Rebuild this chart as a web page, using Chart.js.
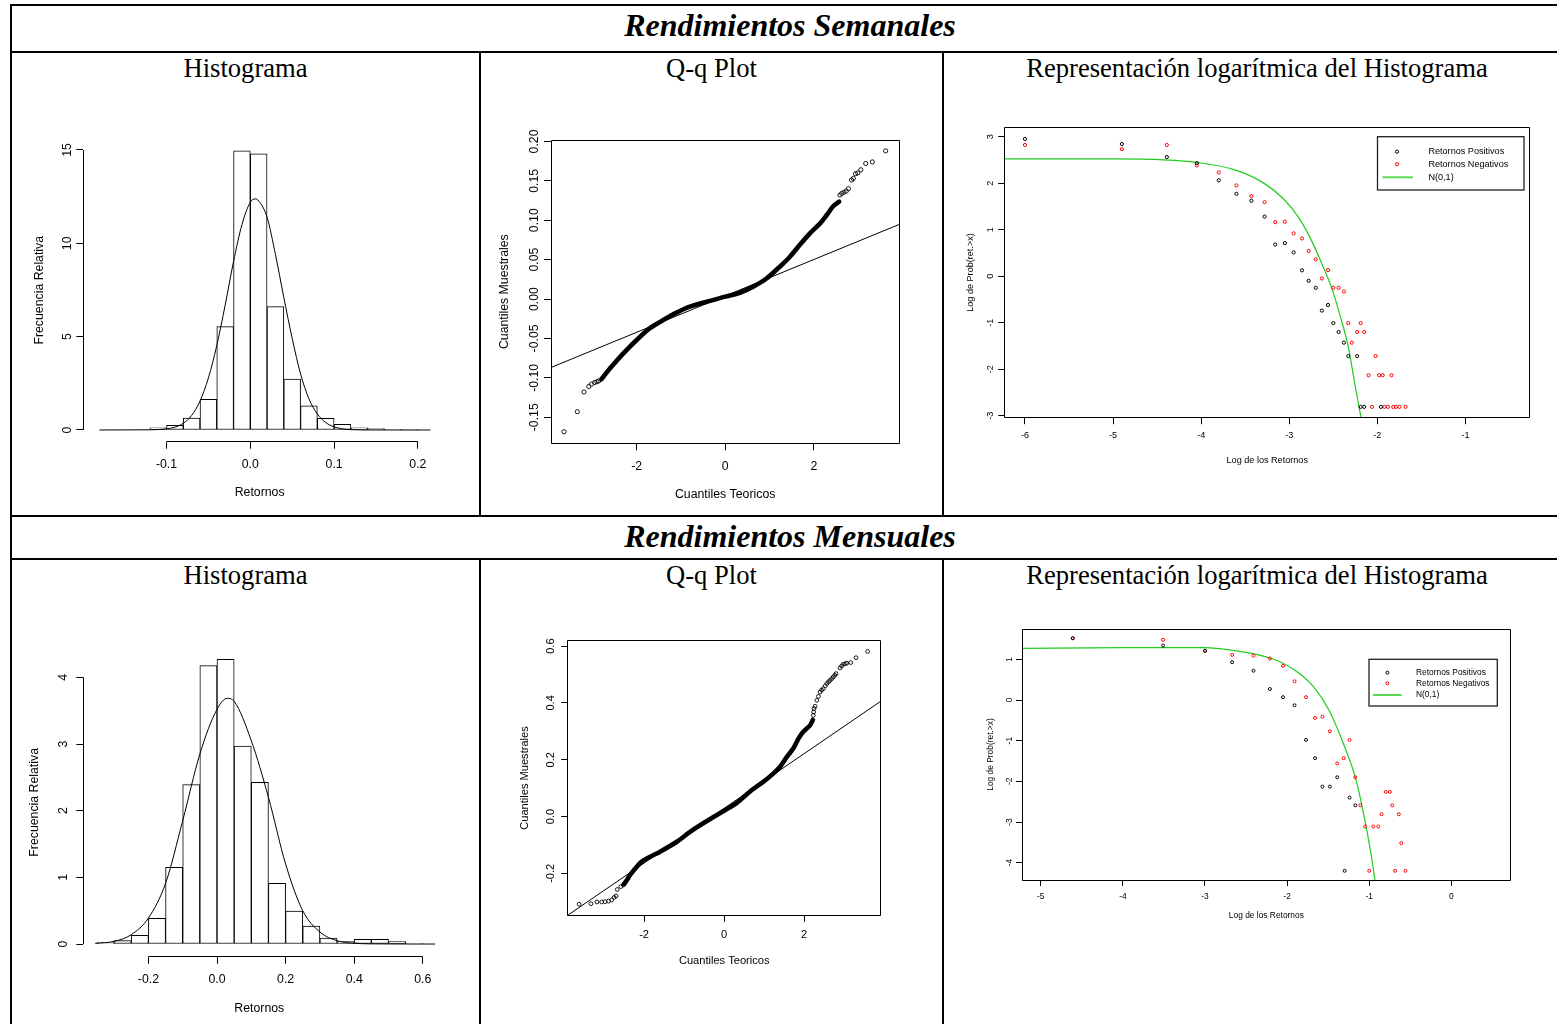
<!DOCTYPE html>
<html>
<head>
<meta charset="utf-8">
<script src="https://cdn.jsdelivr.net/npm/chart.js@4.4.1/dist/chart.umd.min.js"></script>
<style>
  body { margin: 0; width: 1557px; height: 1024px; overflow: hidden; background: #fff; position: relative;
         font-family: 'Liberation Serif', 'Times New Roman', serif; }
  .ln { position: absolute; background: #000; }
  .txt { position: absolute; text-align: center; white-space: nowrap; line-height: 1; color: #000; }
  .row { font-size: 32px; font-weight: bold; font-style: italic; }
  .cell { font-size: 26.6px; }
  canvas { position: absolute; }
</style>
</head>
<body>
<!-- table rules -->
<div class="ln" style="left:10px;top:4px;width:1570px;height:2px"></div>
<div class="ln" style="left:10px;top:4px;width:2px;height:1020px"></div>
<div class="ln" style="left:10px;top:51px;width:1570px;height:2px"></div>
<div class="ln" style="left:10px;top:515px;width:1570px;height:2px"></div>
<div class="ln" style="left:10px;top:558px;width:1570px;height:2px"></div>
<div class="ln" style="left:479px;top:51px;width:2px;height:465px"></div>
<div class="ln" style="left:942px;top:51px;width:2px;height:465px"></div>
<div class="ln" style="left:479px;top:558px;width:2px;height:466px"></div>
<div class="ln" style="left:942px;top:558px;width:2px;height:466px"></div>

<div class="txt row" style="left:10px;width:1560px;top:9px">Rendimientos Semanales</div>
<div class="txt row" style="left:10px;width:1560px;top:520px">Rendimientos Mensuales</div>

<div class="txt cell" style="left:12px;width:467px;top:55px">Histograma</div>
<div class="txt cell" style="left:481px;width:461px;top:55px">Q-q Plot</div>
<div class="txt cell" style="left:944px;width:626px;top:55px">Representación logarítmica del Histograma</div>
<div class="txt cell" style="left:12px;width:467px;top:562px">Histograma</div>
<div class="txt cell" style="left:481px;width:461px;top:562px">Q-q Plot</div>
<div class="txt cell" style="left:944px;width:626px;top:562px">Representación logarítmica del Histograma</div>

<script>
// ---------- Rendimientos semanales ----------
// histograma (bordes de clase y densidad)
const semBreaks = [-0.18, -0.16, -0.14, -0.12, -0.10, -0.08, -0.06, -0.04, -0.02, 0.00,
                   0.02, 0.04, 0.06, 0.08, 0.10, 0.12, 0.14, 0.16, 0.18, 0.20];
const semDensity = [0, 0, 0, 0.12, 0.25, 0.64, 1.64, 5.54, 14.95, 14.8,
                    6.61, 2.73, 1.29, 0.62, 0.30, 0.12, 0.07, 0.04, 0.01];
const semCurveX = [-0.18, -0.12, -0.10, -0.09, -0.08, -0.07, -0.06, -0.05, -0.04, -0.03, -0.02, -0.01,
                   0.00, 0.006, 0.01, 0.02, 0.03, 0.04, 0.05, 0.06, 0.07, 0.08, 0.09, 0.10, 0.12, 0.15, 0.215];
const semCurveY = [0, 0.01, 0.06, 0.15, 0.36, 0.78, 1.55, 2.79, 4.53, 6.69, 9.03, 11.0,
                   12.2, 12.38, 12.27, 11.4, 9.4, 7.1, 4.9, 3.0, 1.67, 0.86, 0.40, 0.17, 0.02, 0.002, 0];
const semHistXTicks = [-0.1, 0.0, 0.1, 0.2];
const semHistYTicks = [0, 5, 10, 15];

// q-q plot
const semQqLineX = [-3.934, 3.928];
const semQqLineY = [-0.0869, 0.0947];
const semQqBandX = [-2.80, -2.75, -2.6, -2.3, -2.0, -1.7, -1.4, -1.1, -0.8, -0.42, 0, 0.33, 0.63, 0.93,
                    1.23, 1.46, 1.68, 1.91, 2.14, 2.29, 2.44, 2.57];
const semQqBandY = [-0.102, -0.0986, -0.088, -0.069, -0.052, -0.037, -0.0267, -0.0173, -0.0097, -0.0034,
                    0.003, 0.008, 0.0157, 0.026, 0.041, 0.0537, 0.0685, 0.0833, 0.096, 0.1066, 0.118, 0.1235];
const semQqPtsX = [-3.64, -3.34, -3.19, -3.08, -3.02, -2.95, -2.90, -2.86,
                   2.59, 2.63, 2.68, 2.73, 2.78, 2.85, 2.89, 2.94, 2.99, 3.06, 3.17, 3.32, 3.62];
const semQqPtsY = [-0.1684, -0.143, -0.118, -0.111, -0.108, -0.106, -0.105, -0.104,
                   0.132, 0.134, 0.1355, 0.137, 0.140, 0.151, 0.153, 0.159, 0.160, 0.164, 0.172, 0.174, 0.188];
const semQqXTicks = [-2, 0, 2];
const semQqYTicks = [-0.15, -0.10, -0.05, 0.00, 0.05, 0.10, 0.15, 0.20];

// representacion logaritmica
const semPosX = [-6.00, -4.90, -4.39, -4.05, -3.80, -3.60, -3.43, -3.28, -3.16, -3.05, -2.95, -2.855,
                 -2.78, -2.70, -2.63, -2.56, -2.50, -2.44, -2.38, -2.33, -2.23, -2.19, -2.15, -1.96];
const semPosY = [2.95, 2.84, 2.56, 2.43, 2.06, 1.77, 1.62, 1.28, 0.68, 0.71, 0.51, 0.125,
                 -0.10, -0.25, -0.74, -0.62, -1.01, -1.20, -1.43, -1.72, -1.72, -2.81, -2.81, -2.81];
const semNegX = [-6.00, -4.90, -4.39, -4.05, -3.80, -3.60, -3.43, -3.28, -3.16, -3.05, -2.95, -2.855,
                 -2.78, -2.70, -2.63, -2.56, -2.50, -2.44, -2.38, -2.33, -2.29, -2.23, -2.19, -2.15,
                 -2.10, -2.06, -2.02, -1.98, -1.94, -1.92, -1.88, -1.84, -1.82, -1.79, -1.75, -1.68];
const semNegY = [2.82, 2.73, 2.82, 2.38, 2.23, 1.95, 1.72, 1.59, 1.16, 1.17, 0.92, 0.81,
                 0.54, 0.36, -0.05, 0.13, -0.25, -0.25, -0.33, -1.01, -1.43, -1.20, -1.01, -1.20,
                 -2.13, -2.81, -1.72, -2.13, -2.13, -2.81, -2.81, -2.13, -2.81, -2.81, -2.81, -2.81];
const semNormX = [-6.23, -4.98, -4.42, -4.03, -3.59, -3.29, -3.07, -2.90, -2.77, -2.64, -2.51, -2.42, -2.33, -2.25, -2.18];
const semNormY = [2.52, 2.52, 2.50, 2.44, 2.27, 2.00, 1.67, 1.28, 0.85, 0.31, -0.30, -0.87, -1.52, -2.38, -3.10];
const semLogXTicks = [-6, -5, -4, -3, -2, -1];
const semLogYTicks = [-3, -2, -1, 0, 1, 2, 3];

// ---------- Rendimientos mensuales ----------
const menBreaks = [-0.35, -0.30, -0.25, -0.20, -0.15, -0.10, -0.05, 0.00, 0.05, 0.10,
                   0.15, 0.20, 0.25, 0.30, 0.35, 0.40, 0.45, 0.50, 0.55, 0.60];
const menDensity = [0.02, 0.05, 0.13, 0.385, 1.15, 2.39, 4.175, 4.27, 2.97, 2.425,
                    0.91, 0.495, 0.27, 0.09, 0.035, 0.07, 0.07, 0.035, 0.01];
const menCurveX = [-0.355, -0.30, -0.25, -0.20, -0.15, -0.10, -0.05, 0.00, 0.03, 0.05, 0.10, 0.15,
                   0.20, 0.25, 0.30, 0.35, 0.40, 0.45, 0.637];
const menCurveY = [0.01, 0.04, 0.14, 0.39, 0.91, 1.85, 2.85, 3.52, 3.685, 3.64, 3.05, 2.2,
                   1.2, 0.5, 0.18, 0.05, 0.012, 0.003, 0];
const menHistXTicks = [-0.2, 0.0, 0.2, 0.4, 0.6];
const menHistYTicks = [0, 1, 2, 3, 4];

const menQqLineX = [-3.91, 3.917];
const menQqLineY = [-0.348, 0.4056];
const menQqBandX = [-2.50, -2.43, -2.35, -2.22, -2.06, -1.85, -1.6, -1.18, -0.85, -0.43, 0, 0.32, 0.65,
                    0.98, 1.23, 1.4, 1.57, 1.73, 1.86, 1.98, 2.15, 2.22];
const menQqBandY = [-0.238, -0.224, -0.206, -0.183, -0.159, -0.142, -0.124, -0.089, -0.054, -0.016, 0.02,
                    0.048, 0.088, 0.122, 0.151, 0.175, 0.21, 0.239, 0.274, 0.298, 0.321, 0.340];
const menQqPtsX = [-3.625, -3.33, -3.18, -3.06, -2.975, -2.89, -2.81, -2.75, -2.70, -2.67, -2.58, -2.52,
                   2.23, 2.24, 2.25, 2.275, 2.32, 2.36, 2.40, 2.44, 2.48, 2.53, 2.57, 2.61, 2.65, 2.69,
                   2.73, 2.77, 2.80, 2.90, 2.94, 2.98, 3.03, 3.07, 3.17, 3.30, 3.59];
const menQqPtsY = [-0.309, -0.307, -0.301, -0.301, -0.300, -0.298, -0.294, -0.285, -0.280, -0.257, -0.247, -0.241,
                   0.356, 0.368, 0.380, 0.388, 0.409, 0.423, 0.438, 0.445, 0.450, 0.460, 0.468, 0.474, 0.479, 0.485,
                   0.491, 0.497, 0.503, 0.523, 0.530, 0.536, 0.538, 0.540, 0.542, 0.559, 0.581];
const menQqXTicks = [-2, 0, 2];
const menQqYTicks = [-0.2, 0.0, 0.2, 0.4, 0.6];

const menPosX = [-4.61, -3.51, -3.00, -2.67, -2.41, -2.21, -2.05, -1.91, -1.77, -1.66, -1.57, -1.48,
                 -1.39, -1.30, -1.24, -1.17];
const menPosY = [1.52, 1.34, 1.21, 0.93, 0.72, 0.27, 0.07, -0.13, -0.98, -1.43, -2.13, -2.13,
                 -1.90, -4.20, -2.40, -2.59];
const menNegX = [-4.61, -3.51, -3.00, -2.67, -2.41, -2.21, -2.05, -1.91, -1.77, -1.66, -1.57, -1.48,
                 -1.39, -1.31, -1.24, -1.17, -1.11, -1.05, -1.00, -0.95, -0.89, -0.85, -0.80, -0.75,
                 -0.72, -0.685, -0.64, -0.61, -0.56];
const menNegY = [1.52, 1.48, 1.21, 1.11, 1.09, 1.02, 0.84, 0.46, 0.07, -0.44, -0.41, -0.77,
                 -1.56, -1.43, -0.98, -1.90, -2.59, -3.11, -4.20, -3.11, -3.11, -2.81, -2.26, -2.26,
                 -2.59, -4.20, -2.81, -3.52, -4.20];
const menNormX = [-5.23, -4.0, -3.03, -2.56, -2.19, -1.91, -1.68, -1.49, -1.30, -1.16, -1.07, -0.98, -0.93];
const menNormY = [1.27, 1.29, 1.29, 1.19, 1.02, 0.74, 0.33, -0.25, -1.15, -1.97, -2.79, -3.77, -4.43];
const menLogXTicks = [-5, -4, -3, -2, -1, 0];
const menLogYTicks = [-4, -3, -2, -1, 0, 1];

// ---------- helpers ----------
Chart.defaults.font.family = "'Liberation Sans', Arial, Helvetica, sans-serif";
Chart.defaults.color = '#000';

const GREEN = '#1fcc1f';
const pts = (xs, ys) => xs.map((x, i) => ({ x: x, y: ys[i] }));
const bins = (br, d) => d.map((v, i) => ({ x: (br[i] + br[i + 1]) / 2, y: v }));
const ap = p => Math.round(p - 0.5) + 0.5;

// R style frame: detached axes for histograms, box for the others, plus legend
const rFrame = {
  id: 'rFrame',
  afterDatasetsDraw(chart, args, o) {
    const { ctx, chartArea: a } = chart;
    const xs = chart.scales.x, ys = chart.scales.y;
    ctx.save();
    ctx.strokeStyle = '#000';
    ctx.lineWidth = 1;
    ctx.beginPath();
    if (o.box) {
      ctx.rect(ap(a.left), ap(a.top), ap(a.right) - ap(a.left), ap(a.bottom) - ap(a.top));
    } else {
      const xt = xs.ticks, yt = ys.ticks;
      ctx.moveTo(xs.getPixelForValue(xt[0].value), ap(a.bottom));
      ctx.lineTo(xs.getPixelForValue(xt[xt.length - 1].value), ap(a.bottom));
      ctx.moveTo(ap(a.left), ys.getPixelForValue(yt[0].value));
      ctx.lineTo(ap(a.left), ys.getPixelForValue(yt[yt.length - 1].value));
    }
    ctx.stroke();

    if (o.legend) {
      const g = o.legend, ox = o.origin[0], oy = o.origin[1];
      const bx = g.box[0] - ox, by = g.box[1] - oy, bw = g.box[2] - g.box[0], bh = g.box[3] - g.box[1];
      ctx.fillStyle = '#fff';
      ctx.fillRect(bx, by, bw, bh);
      ctx.strokeStyle = '#222';
      ctx.lineWidth = 1.3;
      ctx.strokeRect(bx, by, bw, bh);
      ctx.font = g.font + "px 'Liberation Sans', Arial, sans-serif";
      ctx.textBaseline = 'middle';
      ctx.textAlign = 'left';
      chart.data.datasets.forEach((ds, i) => {
        const ry = g.rows[i] - oy;
        if (ds.type === 'line') {
          ctx.strokeStyle = '#5ad85a';
          ctx.lineWidth = 2;
          ctx.beginPath();
          ctx.moveTo(g.line[0] - ox, ry);
          ctx.lineTo(g.line[1] - ox, ry);
          ctx.stroke();
        } else {
          ctx.strokeStyle = ds.borderColor;
          ctx.lineWidth = 1;
          ctx.beginPath();
          ctx.arc(g.symX - ox, ry, ds.pointRadius, 0, Math.PI * 2);
          ctx.stroke();
        }
        ctx.fillStyle = '#000';
        ctx.fillText(ds.label, g.textX - ox, ry);
      });
    }
    ctx.restore();
  }
};
Chart.register(rFrame);

function axisOpts(a, vertical, size) {
  return {
    type: 'linear', min: a.min, max: a.max, offset: false,
    afterBuildTicks: s => { s.ticks = a.ticks.map(v => ({ value: v })); },
    afterFit: s => { if (vertical) s.width = size; else s.height = size; },
    border: { display: false },
    grid: { display: true, drawOnChartArea: false, drawTicks: true, tickLength: a.tl,
            color: '#000', lineWidth: 1, offset: false },
    ticks: {
      autoSkip: false, padding: a.pad, color: '#000', font: { size: a.font },
      minRotation: vertical ? 90 : 0, maxRotation: vertical ? 90 : 0,
      crossAlign: vertical ? 'center' : 'near',
      callback: v => a.fmt(v)
    },
    title: { display: true, text: a.title, color: '#000', font: { size: a.font },
             padding: { top: a.tpad, bottom: a.tpad } }
  };
}

// cell = [left, top, width, height] of the canvas, area = [L, T, R, B] of the plot region (page px)
function makePanel(cell, area, type, datasets, sx, sy, frame) {
  const cv = document.createElement('canvas');
  cv.width = cell[2]; cv.height = cell[3];
  cv.style.left = cell[0] + 'px'; cv.style.top = cell[1] + 'px';
  cv.style.width = cell[2] + 'px'; cv.style.height = cell[3] + 'px';
  document.body.appendChild(cv);
  frame.origin = [cell[0], cell[1]];
  return new Chart(cv, {
    type: type,
    data: { datasets: datasets },
    options: {
      responsive: false, animation: false, events: [], devicePixelRatio: 1,
      layout: { padding: { left: 0, bottom: 0, top: area[1] - cell[1], right: cell[0] + cell[2] - area[2] } },
      plugins: { legend: { display: false }, tooltip: { enabled: false }, rFrame: frame },
      datasets: { bar: { barPercentage: 1, categoryPercentage: 1, grouped: false } },
      scales: {
        x: axisOpts(sx, false, cell[1] + cell[3] - area[3]),
        y: axisOpts(sy, true, area[0] - cell[0])
      }
    }
  });
}

const f0 = v => String(v);
const f1 = v => v.toFixed(1);
const f2 = v => v.toFixed(2);

function histSets(br, d, cx, cy) {
  return [
    { type: 'line', data: pts(cx, cy), borderColor: '#000', borderWidth: 1, pointRadius: 0,
      cubicInterpolationMode: 'monotone', clip: 0 },
    { type: 'bar', data: bins(br, d), backgroundColor: '#fff', borderColor: '#000',
      borderWidth: 1, borderSkipped: false }
  ];
}
function qqSets(lx, ly, bx, by, px, py, r) {
  return [
    { type: 'line', data: pts(lx, ly), borderColor: '#000', borderWidth: 1, pointRadius: 0, clip: 0 },
    { type: 'line', data: pts(bx, by), borderColor: '#000', borderWidth: 4.6, pointRadius: 0,
      tension: 0.3, borderCapStyle: 'round', borderJoinStyle: 'round' },
    { type: 'scatter', data: pts(px, py), borderColor: '#000', backgroundColor: 'rgba(0,0,0,0)',
      pointRadius: r, borderWidth: 0.9 }
  ];
}
function logSets(pxs, pys, nxs, nys, gx, gy, r) {
  return [
    { type: 'scatter', label: 'Retornos Positivos', data: pts(pxs, pys), borderColor: '#000',
      backgroundColor: 'rgba(0,0,0,0)', pointRadius: r, borderWidth: 1 },
    { type: 'scatter', label: 'Retornos Negativos', data: pts(nxs, nys), borderColor: '#ff0000',
      backgroundColor: 'rgba(0,0,0,0)', pointRadius: r, borderWidth: 1 },
    { type: 'line', label: 'N(0,1)', data: pts(gx, gy), borderColor: GREEN, borderWidth: 1.2,
      pointRadius: 0, cubicInterpolationMode: 'monotone', clip: 0 }
  ];
}

// ---------- panels ----------
makePanel([12, 90, 467, 424], [83.3, 138.8, 436, 441.7], 'bar',
  histSets(semBreaks, semDensity, semCurveX, semCurveY),
  { min: -0.1993, max: 0.2216, ticks: semHistXTicks, fmt: f1, title: 'Retornos', font: 12.3, tl: 7, pad: 8.9, tpad: 13.6 },
  { min: -0.627, max: 15.6, ticks: semHistYTicks, fmt: f0, title: 'Frecuencia Relativa', font: 12.3, tl: 7, pad: 1.5, tpad: 20.6 },
  { box: false });

makePanel([481, 90, 461, 424], [551, 140, 899.3, 443.3], 'scatter',
  qqSets(semQqLineX, semQqLineY, semQqBandX, semQqBandY, semQqPtsX, semQqPtsY, 2.1),
  { min: -3.934, max: 3.928, ticks: semQqXTicks, fmt: f0, title: 'Cuantiles Teoricos', font: 12.3, tl: 7, pad: 9, tpad: 11.6 },
  { min: -0.1831, max: 0.2018, ticks: semQqYTicks, fmt: f2, title: 'Cuantiles Muestrales', font: 12.3, tl: 7, pad: -5, tpad: 16.6 },
  { box: true });

makePanel([944, 90, 613, 424], [1004.7, 127.3, 1529.8, 417.7], 'scatter',
  logSets(semPosX, semPosY, semNegX, semNegY, semNormX, semNormY, 1.6),
  { min: -6.23, max: -0.27, ticks: semLogXTicks, fmt: f0, title: 'Log de los Retornos', font: 9.1, tl: 6.5, pad: 6.3, tpad: 48.5 },
  { min: -3.043, max: 3.2, ticks: semLogYTicks, fmt: f0, title: 'Log de Prob(ret.>x)', font: 9.1, tl: 6.5, pad: 3.9, tpad: 21.5 },
  { box: true, legend: { box: [1377.5, 136.7, 1524, 190], symX: 1397, textX: 1428.4,
                         rows: [151.7, 164.3, 177.3], line: [1382.5, 1413], font: 9.1 } });

makePanel([12, 597, 467, 427], [83.3, 648, 435.3, 956.7], 'bar',
  histSets(menBreaks, menDensity, menCurveX, menCurveY),
  { min: -0.3898, max: 0.6364, ticks: menHistXTicks, fmt: f1, title: 'Retornos', font: 12.3, tl: 7, pad: 8.9, tpad: 8.3 },
  { min: -0.19, max: 4.44, ticks: menHistYTicks, fmt: f0, title: 'Frecuencia Relativa', font: 12.3, tl: 7, pad: 9.6, tpad: 15.6 },
  { box: false });

makePanel([481, 597, 461, 427], [567.7, 640.7, 880.7, 915.3], 'scatter',
  qqSets(menQqLineX, menQqLineY, menQqBandX, menQqBandY, menQqPtsX, menQqPtsY, 1.9),
  { min: -3.91, max: 3.917, ticks: menQqXTicks, fmt: f0, title: 'Cuantiles Teoricos', font: 11.1, tl: 6.5, pad: 6.5, tpad: 56.6 },
  { min: -0.348, max: 0.619, ticks: menQqYTicks, fmt: f1, title: 'Cuantiles Muestrales', font: 11.1, tl: 6.5, pad: 0.6, tpad: 37.3 },
  { box: true });

makePanel([944, 597, 613, 427], [1022, 629, 1510.7, 880], 'scatter',
  logSets(menPosX, menPosY, menNegX, menNegY, menNormX, menNormY, 1.5),
  { min: -5.228, max: 0.722, ticks: menLogXTicks, fmt: f0, title: 'Log de los Retornos', font: 8.4, tl: 6, pad: 5.7, tpad: 103 },
  { min: -4.426, max: 1.746, ticks: menLogYTicks, fmt: f0, title: 'Log de Prob(ret.>x)', font: 8.4, tl: 6, pad: 3, tpad: 41.2 },
  { box: true, legend: { box: [1369, 659.3, 1497.3, 706], symX: 1387.4, textX: 1416,
                         rows: [672.7, 683.3, 695], line: [1373, 1401.6], font: 8.4 } });
</script>
</body>
</html>
